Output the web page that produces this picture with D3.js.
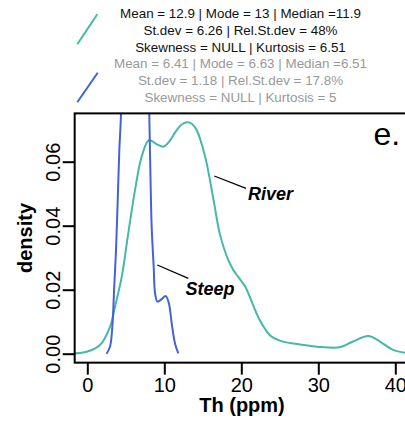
<!DOCTYPE html>
<html>
<head>
<meta charset="utf-8">
<script src="https://cdn.jsdelivr.net/npm/d3@7"></script>
<style>
  html, body { margin: 0; padding: 0; background: #fff; }
  svg { display: block; font-family: "Liberation Sans", Arial, Helvetica, sans-serif; }
</style>
</head>
<body>
<svg id="chart" width="405" height="428"></svg>
<script>
// ---- data ----
const riverX = [-1.64, -0.08, 1.65, 2.95, 3.6, 4.47, 5.32, 6.2, 7.06, 8.0, 9.0, 9.9, 10.7, 11.5, 12.3, 13.0, 13.6, 14.2, 15.3, 16.4, 17.2, 18.3, 18.96, 19.6, 20.5, 21.1, 22.4, 23.7, 25.0, 27.2, 29.8, 32.8, 34.5, 36.5, 38.0, 39.7, 41.3, 43.0];
const riverY = [0.0001, 0.0006, 0.0027, 0.0084, 0.0147, 0.0240, 0.0376, 0.0512, 0.0616, 0.0667, 0.0655, 0.0647, 0.0665, 0.0695, 0.0717, 0.0723, 0.0718, 0.0699, 0.0616, 0.0480, 0.0376, 0.0293, 0.0262, 0.0240, 0.0210, 0.0178, 0.0105, 0.0058, 0.0041, 0.0030, 0.0022, 0.0020, 0.0038, 0.0055, 0.0038, 0.0012, 0.0003, 0.0001];

const steepX = [2.5, 2.95, 3.25, 3.5, 3.73, 3.95, 4.16, 4.38, 4.6, 5.0, 5.5, 6.0, 6.63, 7.2, 7.6, 7.9, 8.05, 8.18, 8.36, 8.62, 8.8, 9.1, 9.53, 10.18, 10.6, 10.96, 11.39, 11.82];
const steepY = [0.0000, 0.0022, 0.0084, 0.0210, 0.0324, 0.0480, 0.0637, 0.0750, 0.1100, 0.1700, 0.2400, 0.2900, 0.3200, 0.2800, 0.1900, 0.1100, 0.0750, 0.0584, 0.0397, 0.0272, 0.0189, 0.0163, 0.0168, 0.0180, 0.0157, 0.0095, 0.0032, 0.0001];

const xTicks = [0, 10, 20, 30, 40];
const yTicks = [0, 0.02, 0.04, 0.06];
const xDomain = [-1.64, 42.5];
const yDomain = [-0.0028, 0.0751];

const legendRiver = ["Mean = 12.9 | Mode = 13 | Median =11.9", "St.dev = 6.26 | Rel.St.dev = 48%", "Skewness = NULL | Kurtosis = 6.51"];
const legendSteep = ["Mean = 6.41 | Mode = 6.63 | Median =6.51", "St.dev = 1.18 | Rel.St.dev = 17.8%", "Skewness = NULL | Kurtosis = 5"];

const xLabel = "Th (ppm)";
const yLabel = "density";
const panelLabel = "e.";
const seriesNames = ["River", "Steep"];
const colors = { river: "#45b8a8", steep: "#4462d6" };

// ---- scales ----
const svg = d3.select("#chart");
const x = d3.scaleLinear().domain([0, 40]).range([87.3, 395.3]);
const y = d3.scaleLinear().domain([0, 0.06]).range([353.7, 161.7]);

const pLeft = x(xDomain[0]), pRight = x(xDomain[1]);
const pTop = y(yDomain[1]), pBottom = y(yDomain[0]);

svg.append("defs").append("clipPath").attr("id", "plotclip")
  .append("rect").attr("x", pLeft).attr("y", pTop).attr("width", pRight - pLeft).attr("height", pBottom - pTop);

// ---- curves ----
const line = d3.line().x(d => x(d[0])).y(d => y(d[1])).curve(d3.curveCatmullRom.alpha(0.5));
const plot = svg.append("g").attr("clip-path", "url(#plotclip)");
plot.append("path").datum(riverX.map((v, i) => [v, riverY[i]]))
  .attr("d", line).attr("fill", "none").attr("stroke", colors.river).attr("stroke-width", 2);
plot.append("path").datum(steepX.map((v, i) => [v, steepY[i]]))
  .attr("d", line).attr("fill", "none").attr("stroke", colors.steep).attr("stroke-width", 2);

// ---- box ----
svg.append("rect").attr("x", pLeft).attr("y", pTop).attr("width", pRight - pLeft).attr("height", pBottom - pTop)
  .attr("fill", "none").attr("stroke", "#000").attr("stroke-width", 2);

// ---- axes ----
const xAxis = svg.append("g").attr("transform", `translate(0,${pBottom})`)
  .call(d3.axisBottom(x).tickValues(xTicks).tickSize(12).tickSizeOuter(0).tickPadding(3).tickFormat(d3.format("d")));
xAxis.select(".domain").remove();
xAxis.selectAll("line").attr("stroke", "#000").attr("stroke-width", 2);
xAxis.selectAll("text").attr("font-size", 20).attr("fill", "#000").attr("font-family", "Liberation Sans, Arial, sans-serif");

const yAxis = svg.append("g").attr("transform", `translate(${pLeft},0)`)
  .call(d3.axisLeft(y).tickValues(yTicks).tickSize(12).tickSizeOuter(0).tickFormat(d3.format(".2f")));
yAxis.select(".domain").remove();
yAxis.selectAll("line").attr("stroke", "#000").attr("stroke-width", 2);
yAxis.selectAll("text").remove();
yAxis.selectAll(".tick").append("text")
  .attr("transform", "translate(-15,0) rotate(-90)")
  .attr("text-anchor", "middle").attr("font-size", 20).attr("fill", "#000")
  .attr("font-family", "Liberation Sans, Arial, sans-serif")
  .text(d => d3.format(".2f")(d));

// ---- axis titles ----
svg.append("text").attr("x", 242).attr("y", 412).attr("text-anchor", "middle")
  .attr("font-size", 20).attr("font-weight", "bold").text(xLabel);
svg.append("text").attr("transform", "translate(32,238) rotate(-90)").attr("text-anchor", "middle")
  .attr("font-size", 20).attr("font-weight", "bold").text(yLabel);

// ---- panel label ----
svg.append("text").attr("x", 373.5).attr("y", 145).attr("font-size", 32).text(panelLabel);

// ---- annotations ----
svg.append("line").attr("x1", 214.3).attr("y1", 176).attr("x2", 246).attr("y2", 188.3).attr("stroke", "#000").attr("stroke-width", 1.3);
svg.append("text").attr("x", 248).attr("y", 200).attr("font-size", 18).attr("font-weight", "bold").attr("font-style", "italic").text(seriesNames[0]);
svg.append("line").attr("x1", 157.3).attr("y1", 265).attr("x2", 188.3).attr("y2", 278.3).attr("stroke", "#000").attr("stroke-width", 1.3);
svg.append("text").attr("x", 185.5).attr("y", 295).attr("font-size", 18).attr("font-weight", "bold").attr("font-style", "italic").text(seriesNames[1]);

// ---- legend ----
svg.append("line").attr("x1", 77.3).attr("y1", 44.3).attr("x2", 97.3).attr("y2", 14.3).attr("stroke", colors.river).attr("stroke-width", 2);
svg.append("line").attr("x1", 77.3).attr("y1", 102.3).attr("x2", 97.7).attr("y2", 72.7).attr("stroke", colors.steep).attr("stroke-width", 2);
const lg = svg.append("g").attr("font-size", 13.4).attr("text-anchor", "middle");
legendRiver.forEach((t, i) => lg.append("text").attr("x", 240.5).attr("y", 18 + i * 16.75).attr("fill", "#111").text(t));
legendSteep.forEach((t, i) => lg.append("text").attr("x", 240.5).attr("y", 68 + i * 16.75).attr("fill", "#999").text(t));
</script>
</body>
</html>
